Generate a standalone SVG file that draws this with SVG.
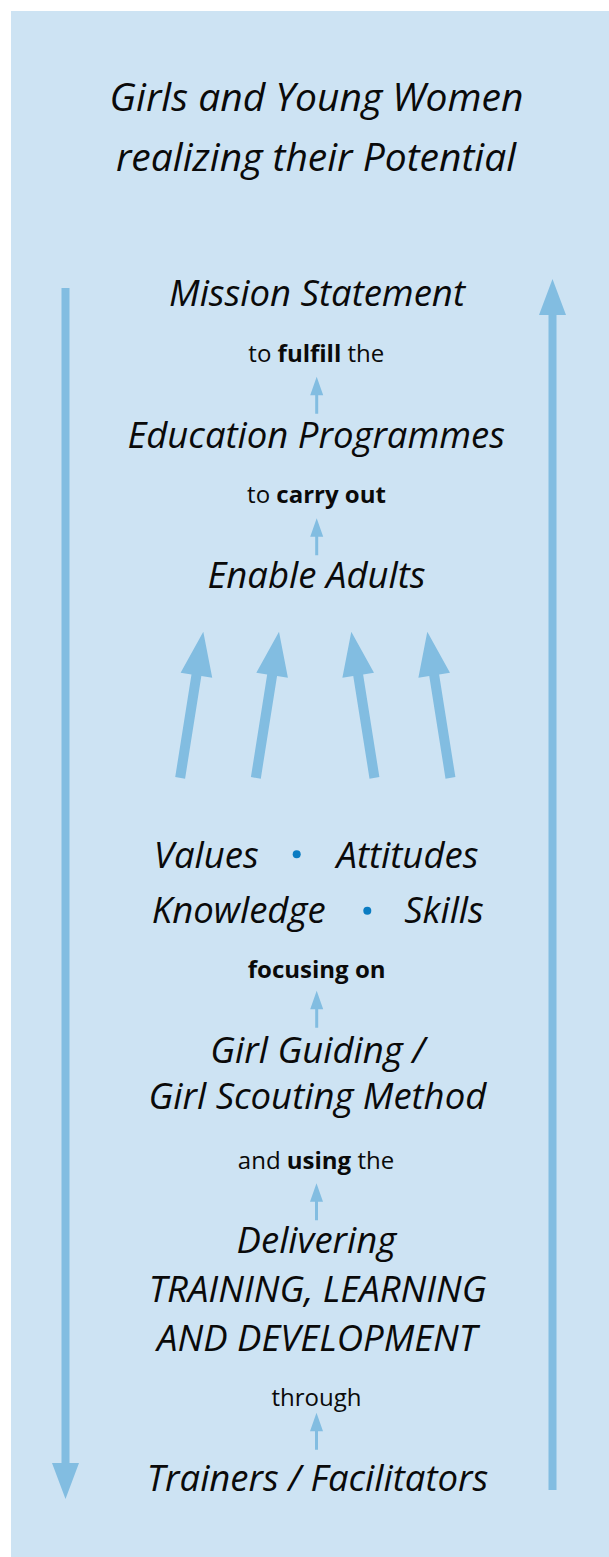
<svg xmlns="http://www.w3.org/2000/svg" width="609" height="1557" viewBox="0 0 609 1557">
<defs>
<style>
.t{font-family:"Open Sans","Noto Sans","Liberation Sans",sans-serif;font-style:italic;font-weight:500;fill:#0a0a0a;text-anchor:middle}
.big{font-size:39px}
.m{font-size:36.5px}
.s{font-family:"Open Sans","Noto Sans","Liberation Sans",sans-serif;font-size:24px;fill:#0a0a0a;text-anchor:middle}
.b{font-weight:bold}
.arr{fill:#82bde1}
.dot{fill:#0a7cc2}
</style>
<path id="bigArrow" d="M0 0 L16 44 L5 44 L5 148 L-5 148 L-5 44 L-16 44 Z"/>
<path id="smallArrow" d="M0 0 L6.5 18.5 L1.5 18.5 L1.5 37 L-1.5 37 L-1.5 18.5 L-6.5 18.5 Z"/>
</defs>
<rect x="11" y="11" width="598" height="1546" fill="#cde3f3"/>

<g id="connectors" class="arr">
  <g id="left-arrow">
    <rect x="61.5" y="288" width="8" height="1176"/>
    <path d="M52 1463 L79 1463 L65.5 1499 Z"/>
  </g>
  <g id="right-arrow">
    <rect x="548.5" y="314" width="8" height="1176"/>
    <path d="M539 315 L566 315 L552.5 279 Z"/>
  </g>
  <use href="#smallArrow" x="316.7" y="376.7"/>
  <use href="#smallArrow" x="316.7" y="518.3"/>
  <use href="#smallArrow" x="316.7" y="990.7"/>
  <use href="#smallArrow" x="316.5" y="1183.3"/>
  <use href="#smallArrow" x="316.5" y="1412.7"/>
  <use href="#bigArrow" transform="translate(203.3 631.7) rotate(9)"/>
  <use href="#bigArrow" transform="translate(279 631.7) rotate(9)"/>
  <use href="#bigArrow" transform="translate(351.3 631.7) rotate(-9)"/>
  <use href="#bigArrow" transform="translate(427.3 631.7) rotate(-9)"/>
</g>

<g id="goal">
  <text class="t big" x="316.5" y="111">Girls and Young Women</text>
  <text class="t big" x="316" y="171">realizing their Potential</text>
</g>

<g id="mission">
  <text class="t m" x="317" y="306">Mission Statement</text>
</g>
<g id="label-fulfill">
  <text class="s" x="316.3" y="362">to <tspan class="b">fulfill</tspan> the</text>
</g>

<g id="education">
  <text class="t m" x="316.2" y="448">Education Programmes</text>
</g>
<g id="label-carry">
  <text class="s" x="316.5" y="503">to <tspan class="b">carry out</tspan></text>
</g>

<g id="enable">
  <text class="t m" x="316.5" y="588">Enable Adults</text>
</g>

<g id="vaks">
  <text class="t m" x="206.3" y="868">Values</text>
  <circle class="dot" cx="296.7" cy="854.3" r="4"/>
  <text class="t m" x="407.5" y="868">Attitudes</text>
  <text class="t m" x="238.7" y="923">Knowledge</text>
  <circle class="dot" cx="367.3" cy="910.7" r="4"/>
  <text class="t m" x="444" y="923">Skills</text>
</g>
<g id="label-focusing">
  <text class="s b" x="316.7" y="978">focusing on</text>
</g>

<g id="method">
  <text class="t m" x="317.7" y="1062.7">Girl Guiding /</text>
  <text class="t m" x="317.4" y="1109.3">Girl Scouting Method</text>
</g>
<g id="label-using">
  <text class="s" x="316" y="1169">and <tspan class="b">using</tspan> the</text>
</g>

<g id="delivering">
  <text class="t m" x="316.4" y="1253.3">Delivering</text>
  <text class="t m" x="317.7" y="1301.7">TRAINING, LEARNING</text>
  <text class="t m" x="317" y="1350.7">AND DEVELOPMENT</text>
</g>
<g id="label-through">
  <text class="s" x="316.5" y="1406">through</text>
</g>

<g id="trainers">
  <text class="t m" x="317.5" y="1491">Trainers / Facilitators</text>
</g>
</svg>
